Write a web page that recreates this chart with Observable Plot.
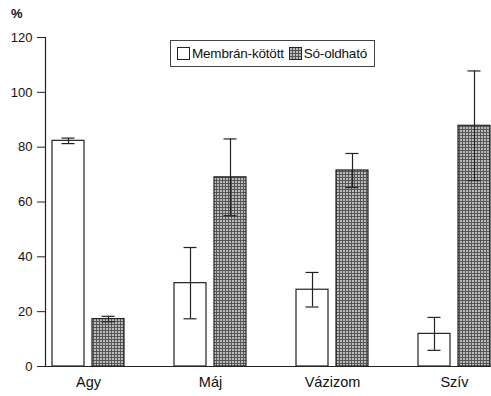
<!DOCTYPE html>
<html><head><meta charset="utf-8">
<script src="https://cdn.jsdelivr.net/npm/d3@7"></script>
<script src="https://cdn.jsdelivr.net/npm/@observablehq/plot@0.6"></script>
<style>
body{margin:0;background:#fff;font-family:"Liberation Sans",Arial,sans-serif;}
#wrap{position:relative;width:491px;height:396px;}
#legend{position:absolute;left:170px;top:40px;width:205px;height:27px;border:1px solid #444;background:#fff;
 display:flex;align-items:center;font-size:13.5px;color:#111;box-sizing:border-box;padding-left:6px;letter-spacing:-0.2px;}
#legend svg{margin-right:2px;}
#ylab{position:absolute;left:11px;top:6px;font-size:13px;font-weight:bold;color:#111;}
</style></head>
<body>
<svg width="0" height="0" style="position:absolute">
 <defs>
  <pattern id="hatch" width="3" height="3" patternUnits="userSpaceOnUse">
   <rect width="3" height="3" fill="#bdbdbd"/>
   <rect width="1" height="3" fill="#555"/>
   <rect width="3" height="1" fill="#555"/>
  </pattern>
 </defs>
</svg>
<div id="wrap">
 <div id="ylab">%</div>
 <div id="legend">
  <svg width="13" height="13"><rect x="0.5" y="0.5" width="12" height="12" fill="#fff" stroke="#222"/></svg>
  <span style="margin-right:5px">Membrán-kötött</span>
  <svg width="13" height="13"><rect x="0.5" y="0.5" width="12" height="12" fill="url(#hatch)" stroke="#222"/></svg>
  <span>Só-oldható</span>
 </div>
</div>
<script>
const organs = ["Agy", "Máj", "Vázizom", "Szív"];
const membranValues = [82.3, 30.4, 28.0, 11.9];
const membranErrors = [1.0, 13.0, 6.3, 6.0];
const soluble = [17.3, 69.0, 71.5, 87.8];
const solubleErrors = [1.0, 14.0, 6.2, 20.0];
const yTicks = [0, 20, 40, 60, 80, 100, 120];

const mem = organs.map((o, i) => ({organ: o, v: membranValues[i], lo: membranValues[i] - membranErrors[i], hi: membranValues[i] + membranErrors[i]}));
const sol = organs.map((o, i) => ({organ: o, v: soluble[i], lo: soluble[i] - solubleErrors[i], hi: soluble[i] + solubleErrors[i]}));

const chart = Plot.plot({
  width: 491,
  height: 396,
  marginLeft: 45,
  marginRight: 0,
  marginTop: 37,
  marginBottom: 30,
  style: {fontFamily: "Liberation Sans, Arial, sans-serif", background: "#fff", color: "#111"},
  x: {domain: organs, range: [50, 492], paddingInner: 0.4065, paddingOuter: 0, align: 0.5},
  y: {domain: [0, 120]},
  marks: [
    Plot.barY(mem, {x: "organ", y: "v", insetRight: 40, fill: "#fff", stroke: "#222", strokeWidth: 1.2}),
    Plot.barY(sol, {x: "organ", y: "v", insetLeft: 40, fill: "url(#hatch)", stroke: "#222", strokeWidth: 1.2}),
    Plot.ruleX(mem, {x: "organ", y1: "lo", y2: "hi", dx: -20, stroke: "#222", strokeWidth: 1.2}),
    Plot.tickY(mem, {x: "organ", y: "hi", insetLeft: 9.5, insetRight: 49.5, stroke: "#222", strokeWidth: 1.2}),
    Plot.tickY(mem, {x: "organ", y: "lo", insetLeft: 9.5, insetRight: 49.5, stroke: "#222", strokeWidth: 1.2}),
    Plot.ruleX(sol, {x: "organ", y1: "lo", y2: "hi", dx: 20, stroke: "#222", strokeWidth: 1.2}),
    Plot.tickY(sol, {x: "organ", y: "hi", insetLeft: 49.5, insetRight: 9.5, stroke: "#222", strokeWidth: 1.2}),
    Plot.tickY(sol, {x: "organ", y: "lo", insetLeft: 49.5, insetRight: 9.5, stroke: "#222", strokeWidth: 1.2}),
    Plot.ruleY([0], {stroke: "#222", strokeWidth: 1.2}),
    Plot.frame({anchor: "left", stroke: "#222", strokeWidth: 1.2}),
    Plot.axisY({ticks: yTicks, tickSize: 8, tickPadding: 5, fontSize: 13, label: null, stroke: "#222"}),
    Plot.axisX({tickSize: 0, tickPadding: 10, fontSize: 14.5, label: null})
  ]
});
document.getElementById("wrap").prepend(chart);
</script>
</body></html>
